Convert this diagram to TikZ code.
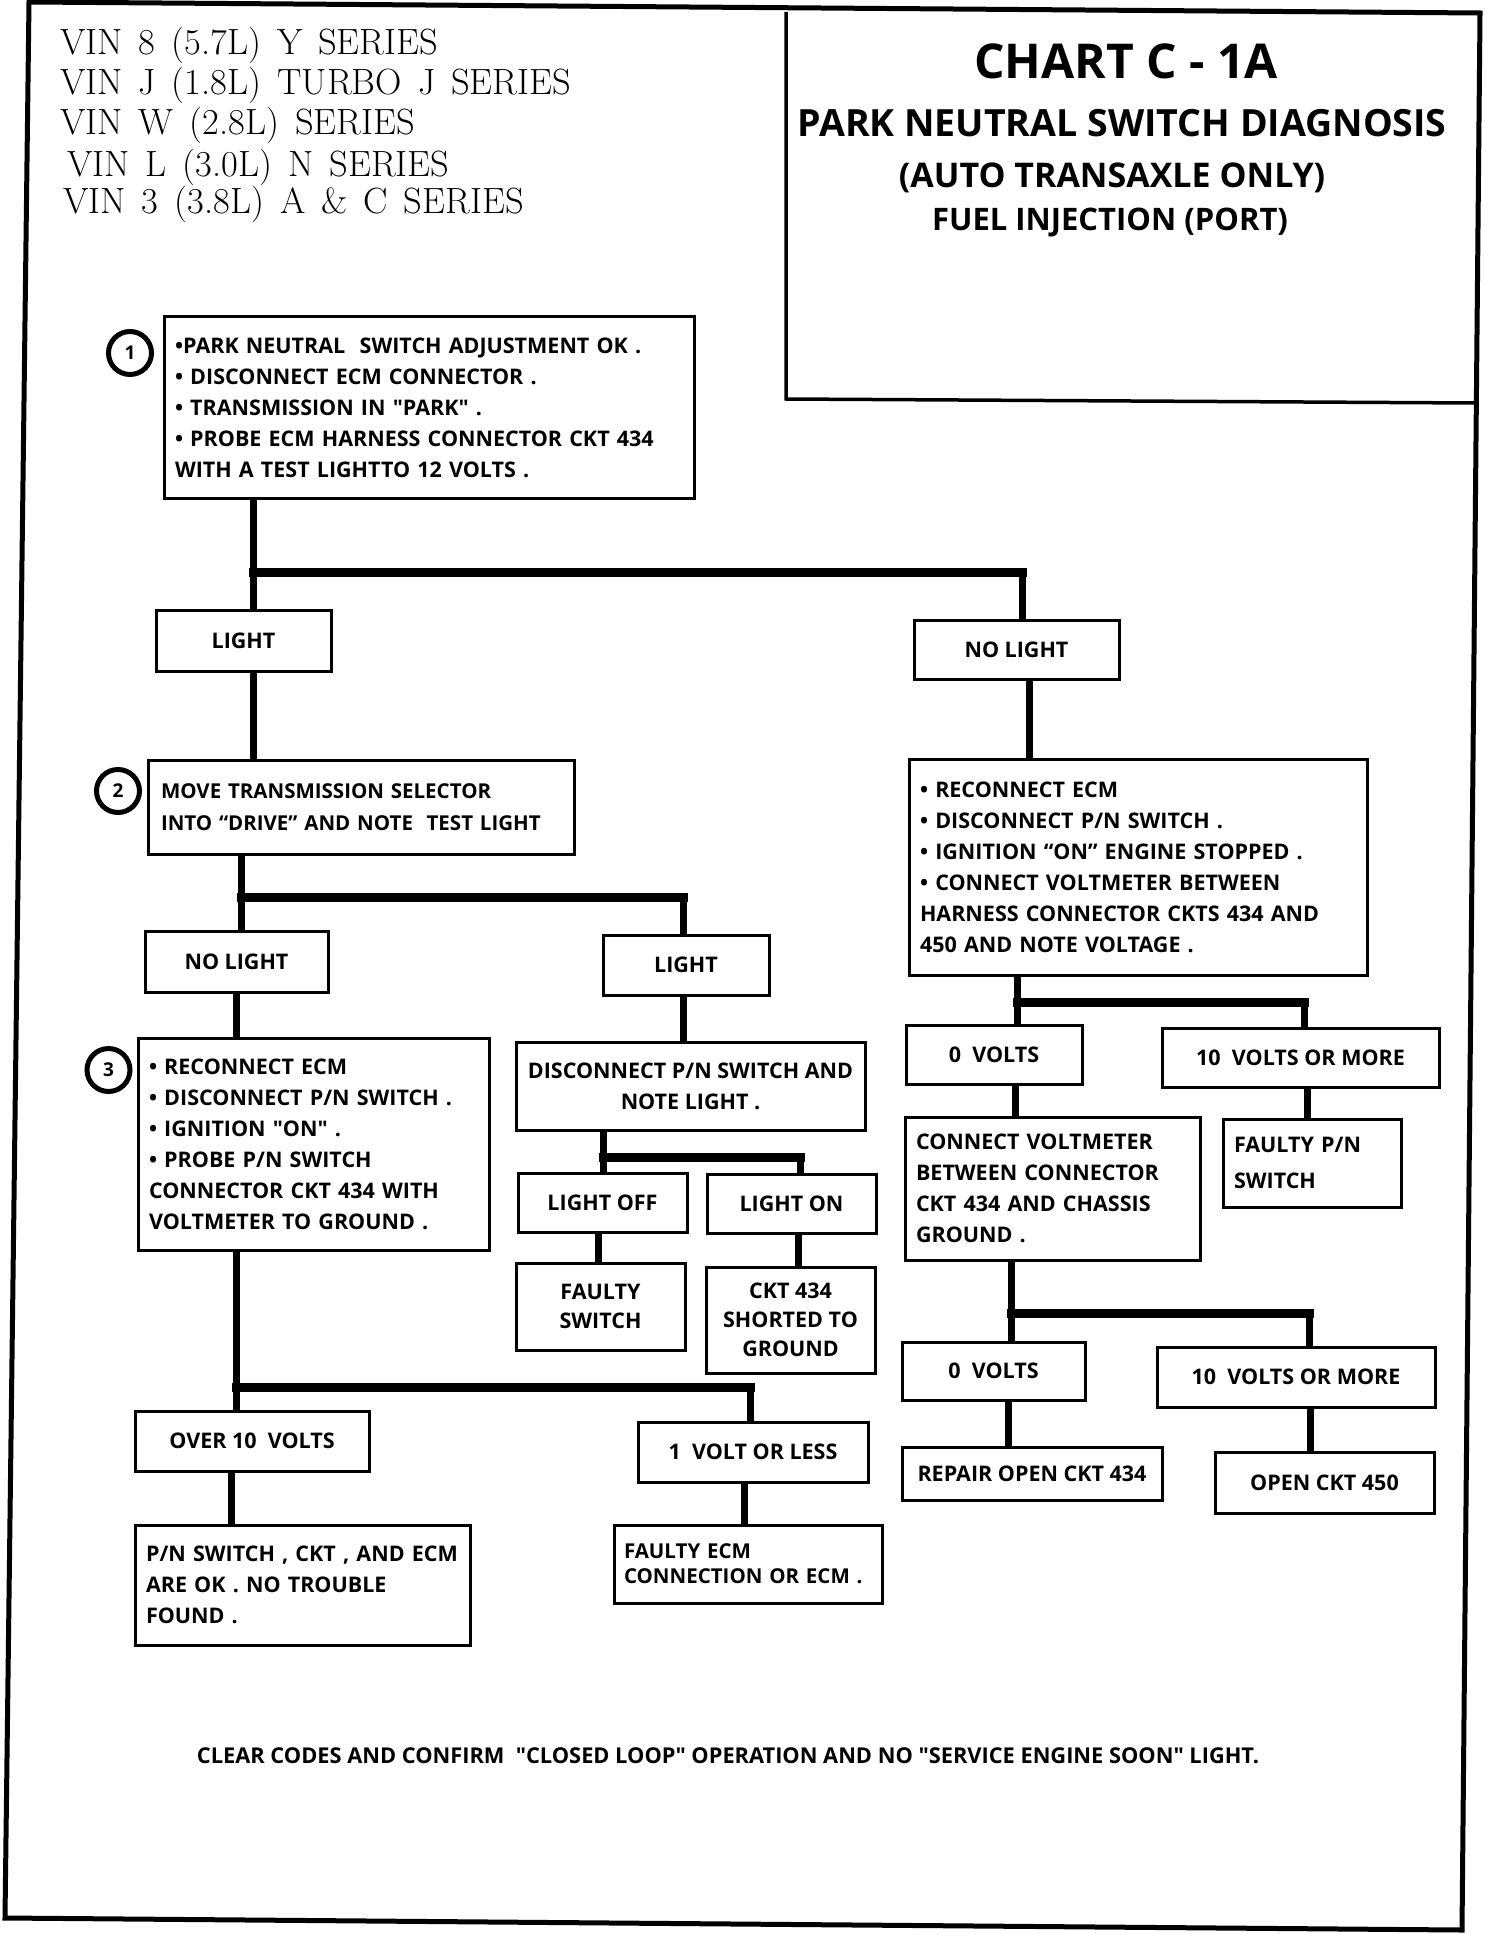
\documentclass[tikz,border=0pt]{standalone}
\usepackage{fontspec}
\newfontfamily\chartfont{Open Sans}
\begin{document}
\begin{tikzpicture}[x=1pt,y=-1pt,
    box/.style={draw,line width=3pt,inner xsep=11pt,inner ysep=4pt,font=\chartfont\bfseries\fontsize{21.5}{31}\selectfont},
    tag/.style={box,align=center},
    note/.style={box,align=left},
    num/.style={draw,circle,line width=5pt,minimum size=43pt,inner sep=0pt,font=\chartfont\bfseries\fontsize{19}{19}\selectfont},
    wire/.style={line width=7pt},
    bar/.style={line width=9pt,line cap=rect},
    vin/.style={anchor=base west,inner sep=0pt,font={\fontsize{36.5}{40}\selectfont\spaceskip=16pt plus 2pt}},
    head/.style={anchor=base,inner sep=0pt}]
    \useasboundingbox (0,0) rectangle (1504,1934);
    \draw[line width=5pt] (29,2) -- (1480,13) -- (1462,1930) -- (5,1918) -- cycle;
    \draw[line width=3.5pt] (786,12) -- (786,399) -- (1476,403);
    % series and title
    \node[vin] (v1) at (60,55) {VIN 8 (5.7L) Y SERIES};
    \node[vin] (v2) at (60,95) {VIN J (1.8L) TURBO J SERIES};
    \node[vin] (v3) at (60,135) {VIN W (2.8L) SERIES};
    \node[vin] (v4) at (67,177) {VIN L (3.0L) N SERIES};
    \node[vin] (v5) at (63,214) {VIN 3 (3.8L) A \& C SERIES};
    \node[head,font=\chartfont\bfseries\fontsize{48}{48}\selectfont] (t1) at (1126,79) {CHART C - 1A};
    \node[head,font=\chartfont\bfseries\fontsize{37.5}{37.5}\selectfont] (t2) at (1122,137) {PARK NEUTRAL SWITCH DIAGNOSIS};
    \node[head,font=\chartfont\bfseries\fontsize{34}{34}\selectfont] (t3) at (1112,188) {(AUTO TRANSAXLE ONLY)};
    \node[head,font=\chartfont\bfseries\fontsize{31}{31}\selectfont] (t4) at (1110,231) {FUEL INJECTION (PORT)};
    % boxes
    \node[note,minimum height=181pt,text width=508pt] (step1) at (429,407.5) {•PARK NEUTRAL\ \ SWITCH ADJUSTMENT OK .\\• DISCONNECT ECM CONNECTOR .\\• TRANSMISSION IN "PARK" .\\• PROBE ECM HARNESS CONNECTOR CKT 434\\WITH A TEST LIGHTTO 12 VOLTS .};
    \node[num] (n1) at (130,353) {1};
    \node[tag,minimum width=175pt,minimum height=61pt] (lt1) at (243.5,640.5) {LIGHT};
    \node[tag,minimum width=205pt,minimum height=59pt] (nl1) at (1016.5,649.5) {NO LIGHT};
    \node[note,minimum height=94pt,text width=400pt,inner xsep=13pt,font=\chartfont\bfseries\fontsize{20.5}{32}\selectfont] (step2) at (361,807) {MOVE TRANSMISSION SELECTOR\\INTO “DRIVE” AND NOTE\ \ TEST LIGHT};
    \node[num] (n2) at (118,791) {2};
    \node[tag,minimum width=183pt,minimum height=61pt] (nl2) at (236.5,961.5) {NO LIGHT};
    \node[tag,minimum width=166pt,minimum height=60pt] (lt2) at (686,965) {LIGHT};
    \node[note,minimum height=216pt,text width=436pt] (recon) at (1138,867) {• RECONNECT ECM\\• DISCONNECT P/N SWITCH .\\• IGNITION “ON” ENGINE STOPPED .\\• CONNECT VOLTMETER BETWEEN\\HARNESS CONNECTOR CKTS 434 AND\\450 AND NOTE VOLTAGE .};
    \node[tag,minimum width=176pt,minimum height=59pt] (zero1) at (994,1054.5) {0\ \ VOLTS};
    \node[tag,minimum width=277pt,minimum height=59pt] (ten1) at (1300.5,1057.5) {10\ \ VOLTS OR MORE};
    \node[note,minimum height=143pt,text width=273pt] (meter) at (1052.5,1188.5) {CONNECT VOLTMETER\\BETWEEN CONNECTOR\\CKT 434 AND CHASSIS\\GROUND .};
    \node[note,minimum height=88pt,text width=156pt,font=\chartfont\bfseries\fontsize{21.5}{36}\selectfont] (fpn) at (1312,1163) {FAULTY P/N\\SWITCH};
    \node[tag,minimum width=183pt,minimum height=58pt] (zero2) at (993.5,1371) {0\ \ VOLTS};
    \node[tag,minimum width=278pt,minimum height=60pt] (ten2) at (1296,1377) {10\ \ VOLTS OR MORE};
    \node[tag,minimum width=260pt,minimum height=53pt] (rep) at (1032,1473.5) {REPAIR OPEN CKT 434};
    \node[tag,minimum width=219pt,minimum height=61pt] (open) at (1324.5,1482.5) {OPEN CKT 450};
    \node[tag,minimum width=349pt,minimum height=88pt] (disc) at (690.5,1086) {DISCONNECT P/N SWITCH AND\\NOTE LIGHT .};
    \node[tag,minimum width=169pt,minimum height=59pt] (off) at (602.5,1202.5) {LIGHT OFF};
    \node[tag,minimum width=169pt,minimum height=59pt] (lon) at (791.5,1203.5) {LIGHT ON};
    \node[tag,minimum width=169pt,minimum height=87pt,font=\chartfont\bfseries\fontsize{21.5}{29}\selectfont] (fsw) at (600.5,1306.5) {FAULTY\\SWITCH};
    \node[tag,minimum width=169pt,minimum height=106pt,font=\chartfont\bfseries\fontsize{21.5}{29}\selectfont] (short) at (790.5,1320) {CKT 434\\SHORTED TO\\GROUND};
    \node[note,minimum height=212pt,text width=329pt] (step3) at (313.5,1144) {• RECONNECT ECM\\• DISCONNECT P/N SWITCH .\\• IGNITION "ON" .\\• PROBE P/N SWITCH\\CONNECTOR CKT 434 WITH\\VOLTMETER TO GROUND .};
    \node[num] (n3) at (108.5,1070) {3};
    \node[tag,minimum width=234pt,minimum height=60pt] (over) at (252,1441) {OVER 10\ \ VOLTS};
    \node[tag,minimum width=230pt,minimum height=60pt] (less) at (753,1452) {1\ \ VOLT OR LESS};
    \node[note,minimum height=120pt,text width=313pt] (okay) at (302.5,1585) {P/N SWITCH , CKT , AND ECM\\ARE OK . NO TROUBLE\\FOUND .};
    \node[note,minimum height=78pt,text width=248pt,inner xsep=10pt,font=\chartfont\bfseries\fontsize{20.5}{25}\selectfont] (ecm) at (748,1564) {FAULTY ECM\\CONNECTION OR ECM .};
    \node[head,font=\chartfont\bfseries\fontsize{21.8}{21.8}\selectfont] (foot) at (728,1763) {CLEAR CODES AND CONFIRM\ \ "CLOSED LOOP" OPERATION AND NO "SERVICE ENGINE SOON" LIGHT.};
    % connectors
    \coordinate (j1) at (253,572);
    \coordinate (k1) at (1022,572);
    \draw[wire] (j1 |- step1.south) -- (j1 |- lt1.north);
    \draw[bar] (j1) -- (k1);
    \draw[wire] (k1) -- (k1 |- nl1.north);
    \draw[wire] (j1 |- lt1.south) -- (j1 |- step2.north);
    \coordinate (j2) at (241,897);
    \coordinate (k2) at (683,897);
    \draw[wire] (j2 |- step2.south) -- (j2 |- nl2.north);
    \draw[bar] (j2) -- (k2);
    \draw[wire] (k2) -- (k2 |- lt2.north);
    \draw[wire] (236,0 |- nl2.south) -- (236,0 |- step3.north);
    \draw[wire] (k2 |- lt2.south) -- (k2 |- disc.north);
    \coordinate (j3) at (603,1157);
    \coordinate (k3) at (800,1157);
    \draw[wire] (j3 |- disc.south) -- (j3 |- off.north);
    \draw[bar] (j3) -- (k3);
    \draw[wire] (k3) -- (k3 |- lon.north);
    \draw[wire] (598,0 |- off.south) -- (598,0 |- fsw.north);
    \draw[wire] (798,0 |- lon.south) -- (798,0 |- short.north);
    \coordinate (j4) at (236,1387);
    \coordinate (k4) at (750,1387);
    \draw[wire] (j4 |- step3.south) -- (j4 |- over.north);
    \draw[bar] (j4) -- (k4);
    \draw[wire] (k4) -- (k4 |- less.north);
    \draw[wire] (231,0 |- over.south) -- (231,0 |- okay.north);
    \draw[wire] (744,0 |- less.south) -- (744,0 |- ecm.north);
    \draw[wire] (1029,0 |- nl1.south) -- (1029,0 |- recon.north);
    \coordinate (j5) at (1017,1002);
    \coordinate (k5) at (1304,1002);
    \draw[wire] (j5 |- recon.south) -- (j5 |- zero1.north);
    \draw[bar] (j5) -- (k5);
    \draw[wire] (k5) -- (k5 |- ten1.north);
    \draw[wire] (1015,0 |- zero1.south) -- (1015,0 |- meter.north);
    \draw[wire] (1307,0 |- ten1.south) -- (1307,0 |- fpn.north);
    \coordinate (j6) at (1011,1313);
    \coordinate (k6) at (1309,1313);
    \draw[wire] (j6 |- meter.south) -- (j6 |- zero2.north);
    \draw[bar] (j6) -- (k6);
    \draw[wire] (k6) -- (k6 |- ten2.north);
    \draw[wire] (1008,0 |- zero2.south) -- (1008,0 |- rep.north);
    \draw[wire] (1310,0 |- ten2.south) -- (1310,0 |- open.north);
\end{tikzpicture}
\end{document}
